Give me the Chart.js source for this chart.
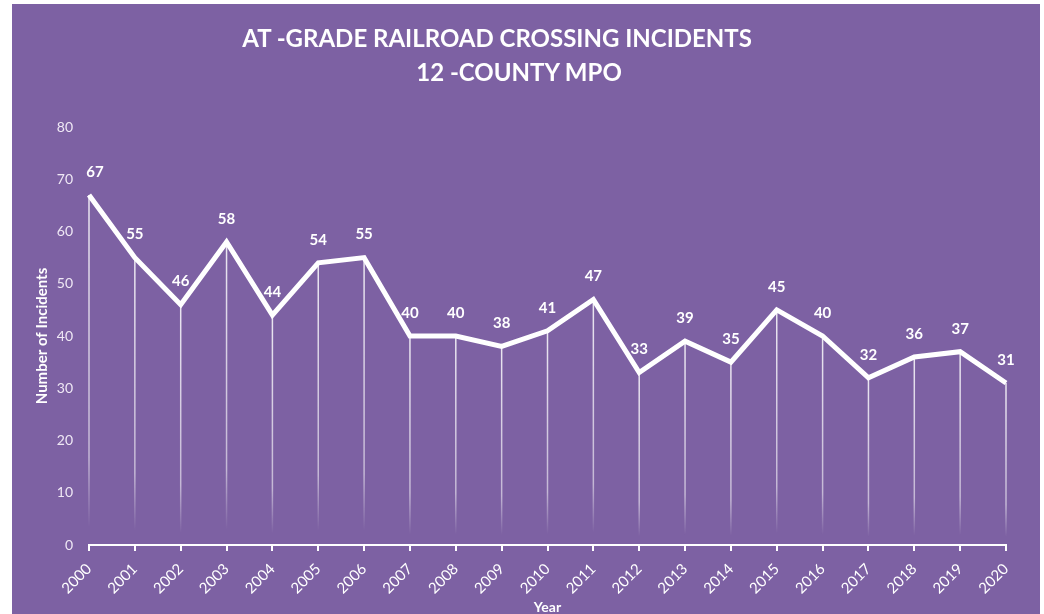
<!DOCTYPE html>
<html>
<head>
<meta charset="utf-8">
<script src="https://cdn.jsdelivr.net/npm/chart.js@4.4.1/dist/chart.umd.min.js"></script>
<style>
  html,body{margin:0;padding:0;background:#fff;width:1044px;height:614px;overflow:hidden;}
  #frame{position:absolute;left:12px;top:4px;width:1028px;height:610px;background:#7d61a3;overflow:hidden;}
  #frame canvas{position:absolute;left:0;top:0;}
  .ttl{position:absolute;color:#fff;font:bold 24px Lato,sans-serif;white-space:nowrap;transform:translate(-50%,-50%);}
</style>
</head>
<body>
<div id="frame">
  <canvas id="chart" width="1028" height="612"></canvas>
  <div class="ttl" id="t1" style="left:485px;top:33px;">AT -GRADE RAILROAD CROSSING INCIDENTS</div>
  <div class="ttl" id="t2" style="left:507px;top:67px;">12 -COUNTY MPO</div>
</div>
<script>
// chart data
const years = ['2000','2001','2002','2003','2004','2005','2006','2007','2008','2009','2010',
  '2011','2012','2013','2014','2015','2016','2017','2018','2019','2020'];
const incidents = [67,55,46,58,44,54,55,40,40,38,41,47,33,39,35,45,40,32,36,37,31];
const yMin = 0, yMax = 80, yStep = 10;

// vertical drop lines from each point down to the axis, fading out near the bottom
const dropLines = {
  id:'dropLines',
  beforeDatasetsDraw(chart){
    const ctx = chart.ctx, y0 = chart.scales.y.getPixelForValue(0);
    chart.getDatasetMeta(0).data.forEach(pt=>{
      const g = ctx.createLinearGradient(0, pt.y, 0, y0);
      g.addColorStop(0, 'rgba(255,255,255,0.85)');
      g.addColorStop(0.75, 'rgba(255,255,255,0.55)');
      g.addColorStop(0.95, 'rgba(255,255,255,0)');
      ctx.save();
      ctx.strokeStyle = g; ctx.lineWidth = 1.5;
      ctx.beginPath(); ctx.moveTo(pt.x, pt.y); ctx.lineTo(pt.x, y0 - 2); ctx.stroke();
      ctx.restore();
    });
  }
};

// value labels above the points
const valueLabels = {
  id:'valueLabels',
  afterDatasetsDraw(chart){
    const ctx = chart.ctx;
    ctx.save();
    ctx.font = 'bold 15px Lato, sans-serif';
    ctx.fillStyle = '#fff'; ctx.textAlign = 'center'; ctx.textBaseline = 'middle';
    chart.getDatasetMeta(0).data.forEach((pt,i)=>{
      ctx.fillText(incidents[i], pt.x + (i===0?6:0), pt.y - 23);
    });
    ctx.restore();
  }
};

new Chart(document.getElementById('chart'), {
  type:'line',
  data:{
    labels: years,
    datasets:[{
      data: incidents,
      borderColor:'#fff', borderWidth:5, borderJoinStyle:'miter',
      pointRadius:0, tension:0, fill:false
    }]
  },
  options:{
    responsive:false, animation:false,
    layout:{ padding:{ top:123, right:34, left:0, bottom:0 } },
    plugins:{ legend:{display:false}, tooltip:{enabled:false}, title:{display:false} },
    scales:{
      x:{
        offset:false,
        afterFit(s){ s.height = 612 - 541; },
        grid:{ display:true, drawOnChartArea:false, drawTicks:true, tickLength:6, color:'#fff', lineWidth:2 },
        border:{ display:true, color:'#fff', width:2 },
        ticks:{ color:'#fff', font:{ family:'Lato', size:15 }, maxRotation:45, minRotation:45, padding:9, autoSkip:false },
        title:{ display:true, text:'Year', color:'#fff', font:{ family:'Lato', size:14, weight:'bold' }, padding:{ top:0, bottom:0 } }
      },
      y:{
        min:yMin, max:yMax,
        afterFit(s){ s.width = 77; },
        grid:{ display:false, drawTicks:false },
        border:{ display:false },
        ticks:{ stepSize:yStep, color:'#efe8f5', font:{ family:'Lato', size:14 }, padding:16 },
        title:{ display:true, text:'Number of Incidents', color:'#fff', font:{ family:'Lato', size:15, weight:'bold' }, padding:{ top:21, bottom:0 } }
      }
    }
  },
  plugins:[dropLines, valueLabels]
});
</script>
</body>
</html>
